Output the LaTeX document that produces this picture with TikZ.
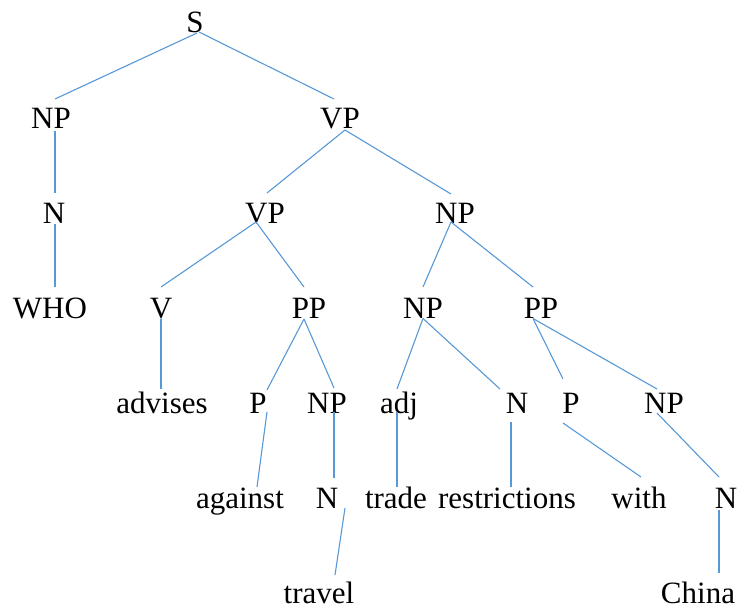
\documentclass[tikz,border=0pt]{standalone}
\usepackage{fontspec}
\setmainfont{Liberation Serif}
\newfontfamily\treefont{Liberation Serif}
\definecolor{branch}{RGB}{88,152,214}
\begin{document}
\begin{tikzpicture}[x=1pt,y=-1pt,
  lab/.style={inner sep=0pt,anchor=base,font=\treefont\fontsize{31}{36}\selectfont},
  edge/.style={draw=branch,line width=1.1pt}]
\useasboundingbox (0,0) rectangle (740,607);
% labels, placed by centre and baseline
\node[lab] (S) at (195,33) {S};
\node[lab] (NP1) at (51,129) {NP};
\node[lab] (VP1) at (340,129) {VP};
\node[lab] (N1) at (54,224) {N};
\node[lab] (VP2) at (265,224) {VP};
\node[lab] (NP2) at (455,224) {NP};
\node[lab] (WHO) at (50,318.5) {WHO};
\node[lab] (V) at (161,318.5) {V};
\node[lab] (PP1) at (309,318.5) {PP};
\node[lab] (NP3) at (423,318.5) {NP};
\node[lab] (PP2) at (541,318.5) {PP};
\node[lab] (advises) at (162,413) {advises};
\node[lab] (P1) at (258,413) {P};
\node[lab] (NP4) at (327,413) {NP};
\node[lab] (adj) at (399,413) {adj};
\node[lab] (N2) at (517,413) {N};
\node[lab] (P2) at (571,413) {P};
\node[lab] (NP5) at (664,413) {NP};
\node[lab] (against) at (240,508) {against};
\node[lab] (N3) at (327,508) {N};
\node[lab] (trade) at (396,508) {trade};
\node[lab] (restrictions) at (507,508) {restrictions};
\node[lab] (with) at (639,508) {with};
\node[lab] (N4) at (726,508) {N};
\node[lab] (travel) at (319,603) {travel};
\node[lab] (China) at (698,603) {China};
% branches
\draw[edge] ([shift={(2,0)}]S.base) -- ([shift={(4,-30)}]NP1.base);
\draw[edge] ([shift={(4,-1)}]S.base) -- ([shift={(-6,-30)}]VP1.base);
\draw[edge] ([shift={(4,2)}]NP1.base) -- ([shift={(1,-31)}]N1.base);
\draw[edge] ([shift={(5,1)}]VP1.base) -- ([shift={(2,-31)}]VP2.base);
\draw[edge] ([shift={(5,1)}]VP1.base) -- ([shift={(-4,-30)}]NP2.base);
\draw[edge] ([shift={(1,0)}]N1.base) -- ([shift={(5,-31.5)}]WHO.base);
\draw[edge] ([shift={(-9,-2)}]VP2.base) -- ([shift={(0,-31.5)}]V.base);
\draw[edge] ([shift={(-9,-2)}]VP2.base) -- ([shift={(-5,-31.5)}]PP1.base);
\draw[edge] ([shift={(-4,-2)}]NP2.base) -- ([shift={(0,-31.5)}]NP3.base);
\draw[edge] ([shift={(-4,-2)}]NP2.base) -- ([shift={(-8,-31.5)}]PP2.base);
\draw[edge] ([shift={(0,0)}]V.base) -- ([shift={(-1,-24)}]advises.base);
\draw[edge] ([shift={(-5,0.5)}]PP1.base) -- ([shift={(9,-23)}]P1.base);
\draw[edge] ([shift={(-5,0.5)}]PP1.base) -- ([shift={(7,-25)}]NP4.base);
\draw[edge] ([shift={(0,0)}]NP3.base) -- ([shift={(-2,-24)}]adj.base);
\draw[edge] ([shift={(0,0)}]NP3.base) -- ([shift={(-17,-24)}]N2.base);
\draw[edge] ([shift={(-8,0)}]PP2.base) -- ([shift={(-8,-34)}]P2.base);
\draw[edge] ([shift={(-8,0)}]PP2.base) -- ([shift={(-7,-24)}]NP5.base);
\draw[edge] ([shift={(9,-1)}]P1.base) -- ([shift={(17,-21)}]against.base);
\draw[edge] ([shift={(7,-1)}]NP4.base) -- ([shift={(7,-30)}]N3.base);
\draw[edge] ([shift={(-2,-1)}]adj.base) -- ([shift={(1,-21)}]trade.base);
\draw[edge] ([shift={(-6,9)}]N2.base) -- ([shift={(4,-21)}]restrictions.base);
\draw[edge] ([shift={(-8,10)}]P2.base) -- ([shift={(2,-31)}]with.base);
\draw[edge] ([shift={(-7,0)}]NP5.base) -- ([shift={(-7,-31)}]N4.base);
\draw[edge] ([shift={(18,0)}]N3.base) -- ([shift={(16,-28)}]travel.base);
\draw[edge] ([shift={(-7,2)}]N4.base) -- ([shift={(21,-30)}]China.base);
\end{tikzpicture}
\end{document}
